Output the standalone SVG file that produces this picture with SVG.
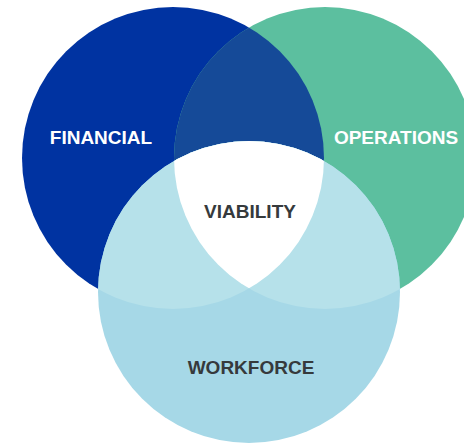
<svg xmlns="http://www.w3.org/2000/svg" width="464" height="443" viewBox="0 0 464 443">
<style>
.lbl{font-family:"Liberation Sans",Arial,sans-serif;font-weight:bold;font-size:19px;text-anchor:middle}
.w{fill:#ffffff}
.d{fill:#363a3c}
</style>
<defs>
<clipPath id="cF"><circle cx="173" cy="158" r="151"/></clipPath>
<clipPath id="cO"><circle cx="325" cy="158" r="151"/></clipPath>
<clipPath id="cW"><circle cx="249" cy="292" r="151"/></clipPath>
</defs>
<rect width="464" height="443" fill="#ffffff"/>
<g id="financial">
<circle cx="173" cy="158" r="151" fill="#0033a1"/>
</g>
<g id="operations">
<circle cx="325" cy="158" r="151" fill="#5cbf9f"/>
<circle cx="325" cy="158" r="151" fill="#154a98" clip-path="url(#cF)"/>
</g>
<g id="workforce">
<circle cx="249" cy="292" r="151" fill="#a6d8e7"/>
<g clip-path="url(#cW)">
<circle cx="173" cy="158" r="151" fill="#b6e1ea"/>
<circle cx="325" cy="158" r="151" fill="#b6e1ea"/>
<circle cx="325" cy="158" r="151" fill="#ffffff" clip-path="url(#cF)"/>
</g>
</g>
<g id="labels">
<text class="lbl w" x="101" y="144">FINANCIAL</text>
<text class="lbl w" x="396" y="144">OPERATIONS</text>
<text class="lbl d" x="250" y="218">VIABILITY</text>
<text class="lbl d" x="251" y="374">WORKFORCE</text>
</g>
<g id="connectors"/>
</svg>
